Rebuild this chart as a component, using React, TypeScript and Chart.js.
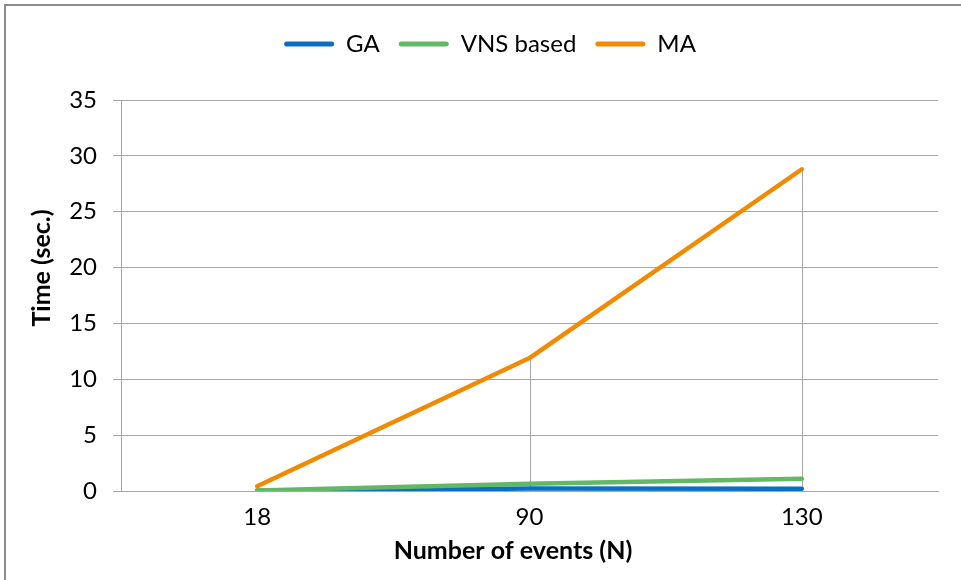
import { useEffect, useRef } from 'react';
import { Chart, registerables } from 'chart.js';

Chart.register(...registerables);

const categories = ['18', '90', '130'];
const seriesNames = ['GA', 'VNS based', 'MA'];
const gaValues = [0.02, 0.22, 0.2];
const vnsValues = [0.05, 0.65, 1.1];
const maValues = [0.42, 11.9, 28.8];
const yMin = 0;
const yMax = 35;
const yStep = 5;
const xTitle = 'Number of events (N)';
const yTitle = 'Time (sec.)';

const colors = ['#0a6fc2', '#62b865', '#f08a00'];
const gridColor = '#a6a6a6';
const FONT = 'Lato';
const PAD_LEFT = 42;

const dropLines = {
  id: 'dropLines',
  beforeDatasetsDraw(chart: any) {
    const { ctx, scales } = chart;
    const xs = scales.x;
    const ys = scales.y;
    ctx.save();
    ctx.strokeStyle = gridColor;
    ctx.lineWidth = 1;
    categories.forEach((_, i) => {
      let m = -Infinity;
      chart.data.datasets.forEach((d: any) => {
        if (d.data[i] > m) m = d.data[i];
      });
      const x = Math.round(xs.getPixelForValue(i)) + 0.5;
      ctx.beginPath();
      ctx.moveTo(x, ys.getPixelForValue(m));
      ctx.lineTo(x, ys.getPixelForValue(0));
      ctx.stroke();
    });
    ctx.restore();
  },
};

const axisTitles = {
  id: 'axisTitles',
  afterDraw(chart: any) {
    const { ctx } = chart;
    ctx.save();
    ctx.font = `bold 25px ${FONT}`;
    ctx.fillStyle = '#000';
    ctx.textAlign = 'center';
    ctx.textBaseline = 'middle';
    ctx.fillText(xTitle, 513, 551);
    ctx.translate(42, 268);
    ctx.rotate(-Math.PI / 2);
    ctx.fillText(yTitle, 0, 0);
    ctx.restore();
  },
};

const legendHeight = {
  id: 'legendHeight',
  beforeInit(chart: any) {
    const lg = chart.legend;
    if (!lg) return;
    const orig = lg.fit;
    lg.fit = function () {
      orig.call(this);
      this.height = 87;
    };
  },
};

export default function App() {
  const ref = useRef<HTMLCanvasElement | null>(null);

  useEffect(() => {
    if (!ref.current) return;
    const seriesData = [gaValues, vnsValues, maValues];
    const chart = new Chart(ref.current, {
      type: 'line',
      data: {
        labels: categories,
        datasets: seriesNames.map((name, i) => ({
          label: name,
          data: seriesData[i],
          borderColor: colors[i],
          backgroundColor: colors[i],
          borderWidth: 4.5,
          pointRadius: 0,
          pointHoverRadius: 0,
          borderCapStyle: 'round' as const,
          borderJoinStyle: 'round' as const,
          tension: 0,
          order: 3 - i,
        })),
      },
      options: {
        animation: false,
        responsive: false,
        devicePixelRatio: 1,
        layout: { padding: { left: PAD_LEFT, right: 23, top: 13, bottom: 0 } },
        plugins: {
          tooltip: { enabled: false },
          legend: {
            position: 'top',
            labels: {
              font: { family: FONT, size: 24 },
              color: '#000',
              boxWidth: 50,
              boxHeight: 5,
              padding: 19,
              useBorderRadius: true,
              borderRadius: 2.5,
              sort: (a: any, b: any) => a.datasetIndex - b.datasetIndex,
              generateLabels: (c: any) =>
                (Chart.defaults.plugins.legend.labels.generateLabels as any)(c).map((l: any) => ({
                  ...l,
                  lineWidth: 0,
                })),
            },
          },
        },
        scales: {
          x: {
            type: 'category',
            offset: true,
            grid: { display: false, drawTicks: false, tickLength: 0 },
            border: { display: true, color: gridColor, width: 1 },
            ticks: { font: { family: FONT, size: 24 }, color: '#000', padding: 12, maxRotation: 0 },
            title: { display: false },
            afterFit: (s: any) => {
              s.height = 89;
            },
          },
          y: {
            min: yMin,
            max: yMax,
            ticks: { stepSize: yStep, font: { family: FONT, size: 24 }, color: '#000', padding: 16 },
            grid: { color: gridColor, lineWidth: 1, drawTicks: true, tickLength: 8 },
            border: { display: true, color: gridColor, width: 1 },
            afterFit: (s: any) => {
              s.width = 121 - PAD_LEFT;
            },
          },
        },
      },
      plugins: [legendHeight, dropLines, axisTitles],
    });
    return () => chart.destroy();
  }, []);

  return (
    <div style={{ position: 'absolute', left: 0, top: 0, width: 961, height: 580, background: '#fff', overflow: 'hidden' }}>
      <canvas ref={ref} width={961} height={580} style={{ position: 'absolute', left: 0, top: 0, width: 961, height: 580 }} />
      <div
        style={{
          position: 'absolute',
          left: 4,
          top: 4,
          width: 1000,
          height: 1000,
          borderLeft: '2px solid #8c8c8c',
          borderTop: '2px solid #8c8c8c',
          pointerEvents: 'none',
        }}
      />
    </div>
  );
}
